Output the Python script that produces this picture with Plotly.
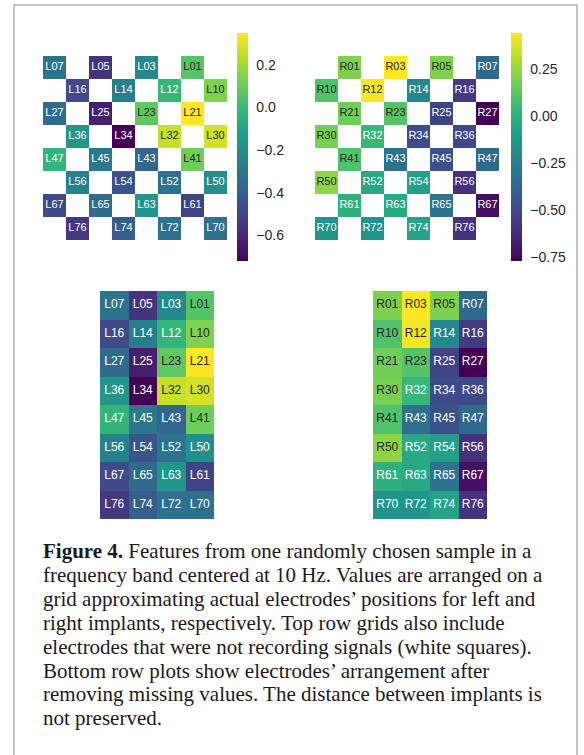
import plotly.graph_objects as go

# ---------------- data (compact 8x4 order, rows top -> bottom) ----------------
left_labels = [
    ["L07", "L05", "L03", "L01"],
    ["L16", "L14", "L12", "L10"],
    ["L27", "L25", "L23", "L21"],
    ["L36", "L34", "L32", "L30"],
    ["L47", "L45", "L43", "L41"],
    ["L56", "L54", "L52", "L50"],
    ["L67", "L65", "L63", "L61"],
    ["L76", "L74", "L72", "L70"],
]
left_values = [
    [-0.31, -0.56, -0.22, 0.06],
    [-0.48, -0.26, -0.01, 0.14],
    [-0.35, -0.63, 0.08, 0.35],
    [-0.16, -0.72, 0.26, 0.28],
    [-0.02, -0.29, -0.37, 0.11],
    [-0.24, -0.44, -0.31, -0.19],
    [-0.48, -0.35, -0.16, -0.50],
    [-0.54, -0.40, -0.32, -0.32],
]
right_labels = [
    ["R01", "R03", "R05", "R07"],
    ["R10", "R12", "R14", "R16"],
    ["R21", "R23", "R25", "R27"],
    ["R30", "R32", "R34", "R36"],
    ["R41", "R43", "R45", "R47"],
    ["R50", "R52", "R54", "R56"],
    ["R61", "R63", "R65", "R67"],
    ["R70", "R72", "R74", "R76"],
]
right_values = [
    [0.20, 0.44, 0.20, -0.36],
    [0.10, 0.42, -0.20, -0.56],
    [0.17, 0.11, -0.52, -0.77],
    [0.19, 0.04, -0.49, -0.50],
    [0.10, -0.32, -0.46, -0.36],
    [0.23, -0.04, -0.08, -0.60],
    [0.00, -0.04, -0.31, -0.72],
    [-0.14, -0.14, -0.07, -0.59],
]
left_tickvals = [0.2, 0.0, -0.2, -0.4, -0.6]
left_ticktext = ["0.2", "0.0", "\u22120.2", "\u22120.4", "\u22120.6"]
right_tickvals = [0.25, 0.0, -0.25, -0.5, -0.75]
right_ticktext = ["0.25", "0.00", "\u22120.25", "\u22120.50", "\u22120.75"]

caption_lines = [
    "<b>Figure 4.</b> Features from one randomly chosen sample in a",
    "frequency band centered at 10 Hz. Values are arranged on a",
    "grid approximating actual electrodes\u2019 positions for left and",
    "right implants, respectively. Top row grids also include",
    "electrodes that were not recording signals (white squares).",
    "Bottom row plots show electrodes\u2019 arrangement after",
    "removing missing values. The distance between implants is",
    "not preserved.",
]

# ---------------- layout helpers ----------------
W, H = 584, 755
TXT_DARK = "#262626"


def px_x(p):
    return p / W


def px_y(p):
    return 1 - p / H


def text_colors(vals, vmin, vmax):
    out = []
    for v in vals:
        t = (v - vmin) / (vmax - vmin)
        out.append(TXT_DARK if t > 0.69 else "white")
    return out


fig = go.Figure()

panels = [
    # labels, values, offset rule, top-grid x px, bottom-grid x px, colorbar x px, ticks
    (left_labels, left_values, lambda r: r % 2, (43, 227), (100, 214), 237,
     left_tickvals, left_ticktext),
    (right_labels, right_values, lambda r: 1 - r % 2, (315, 499), (373, 487), 511,
     right_tickvals, right_ticktext),
]

axis_i = 1
for labels, values, off, topx, botx, cbx, tv, tt in panels:
    flat = [v for row in values for v in row]
    vmin, vmax = min(flat), max(flat)

    # ---- top: sparse 8x8 checkerboard grid ----
    nrows = len(values)
    ncols = 2 * len(values[0])
    z = [[None] * ncols for _ in range(nrows)]
    tx, ty, tl, tv_ = [], [], [], []
    for r, row in enumerate(values):
        for k, v in enumerate(row):
            c = 2 * k + off(r)
            z[r][c] = v
            tx.append(c)
            ty.append(r)
            tl.append(labels[r][k])
            tv_.append(v)
    xa = "x" if axis_i == 1 else f"x{axis_i}"
    ya = "y" if axis_i == 1 else f"y{axis_i}"
    fig.add_trace(go.Heatmap(
        z=z, x=list(range(ncols)), y=list(range(nrows)),
        colorscale="Viridis", zmin=vmin, zmax=vmax,
        xaxis=xa, yaxis=ya, hoverongaps=False,
        colorbar=dict(
            x=px_x(cbx), xanchor="left", xpad=0, ypad=0,
            y=px_y((33 + 261) / 2), yanchor="middle",
            lenmode="pixels", len=228, thickness=11,
            outlinewidth=0,
            tickvals=tv, ticktext=tt,
            ticks="outside", ticklen=6, tickcolor="rgba(0,0,0,0)",
            tickfont=dict(family="Liberation Sans, Arial", size=14, color=TXT_DARK),
        ),
    ))
    fig.add_trace(go.Scatter(
        x=tx, y=ty, text=tl, mode="text", xaxis=xa, yaxis=ya,
        textfont=dict(family="Liberation Sans, Arial", size=11,
                      color=text_colors(tv_, vmin, vmax)),
        hoverinfo="skip", showlegend=False,
    ))
    fig.layout[f"xaxis{'' if axis_i == 1 else axis_i}"] = dict(
        domain=[px_x(topx[0]), px_x(topx[1])], range=[-0.5, ncols - 0.5],
        visible=False, anchor=ya)
    fig.layout[f"yaxis{'' if axis_i == 1 else axis_i}"] = dict(
        domain=[px_y(240), px_y(56)], range=[nrows - 0.5, -0.5],
        visible=False, anchor=xa)
    axis_i += 1

    # ---- bottom: compact 8x4 grid ----
    xa = f"x{axis_i}"
    ya = f"y{axis_i}"
    nc = len(values[0])
    bx, by, bl, bv = [], [], [], []
    for r, row in enumerate(values):
        for k, v in enumerate(row):
            bx.append(k)
            by.append(r)
            bl.append(labels[r][k])
            bv.append(v)
    fig.add_trace(go.Heatmap(
        z=values, x=list(range(nc)), y=list(range(nrows)),
        colorscale="Viridis", zmin=vmin, zmax=vmax, showscale=False,
        xaxis=xa, yaxis=ya,
    ))
    fig.add_trace(go.Scatter(
        x=bx, y=by, text=bl, mode="text", xaxis=xa, yaxis=ya,
        textfont=dict(family="Liberation Sans, Arial", size=12,
                      color=text_colors(bv, vmin, vmax)),
        hoverinfo="skip", showlegend=False,
    ))
    fig.layout[f"xaxis{axis_i}"] = dict(
        domain=[px_x(botx[0]), px_x(botx[1])], range=[-0.5, nc - 0.5],
        visible=False, anchor=ya)
    fig.layout[f"yaxis{axis_i}"] = dict(
        domain=[px_y(519), px_y(291)], range=[nrows - 0.5, -0.5],
        visible=False, anchor=xa)
    axis_i += 1

# ---------------- caption ----------------
for i, line in enumerate(caption_lines):
    fig.add_annotation(
        text=line, xref="paper", yref="paper",
        x=px_x(41), xanchor="left",
        y=px_y(551 + 23.9 * i), yanchor="middle",
        showarrow=False, align="left",
        font=dict(family="Liberation Serif, Times New Roman, serif", size=21, color="#1a1a1a"),
    )

# ---------------- page frame ----------------
fig.add_shape(type="rect", xref="paper", yref="paper",
              x0=px_x(14), x1=px_x(577), y0=-0.05, y1=px_y(5),
              line=dict(color="#b3b3b3", width=1.5), fillcolor="rgba(0,0,0,0)", layer="below")

fig.update_layout(
    width=W, height=H, margin=dict(l=0, r=0, t=0, b=0),
    paper_bgcolor="white", plot_bgcolor="white", showlegend=False,
)

fig.write_html(
    "out.html",
    config={"displayModeBar": False},
    post_script="document.body.style.margin='0';document.body.style.overflow='hidden';",
)
